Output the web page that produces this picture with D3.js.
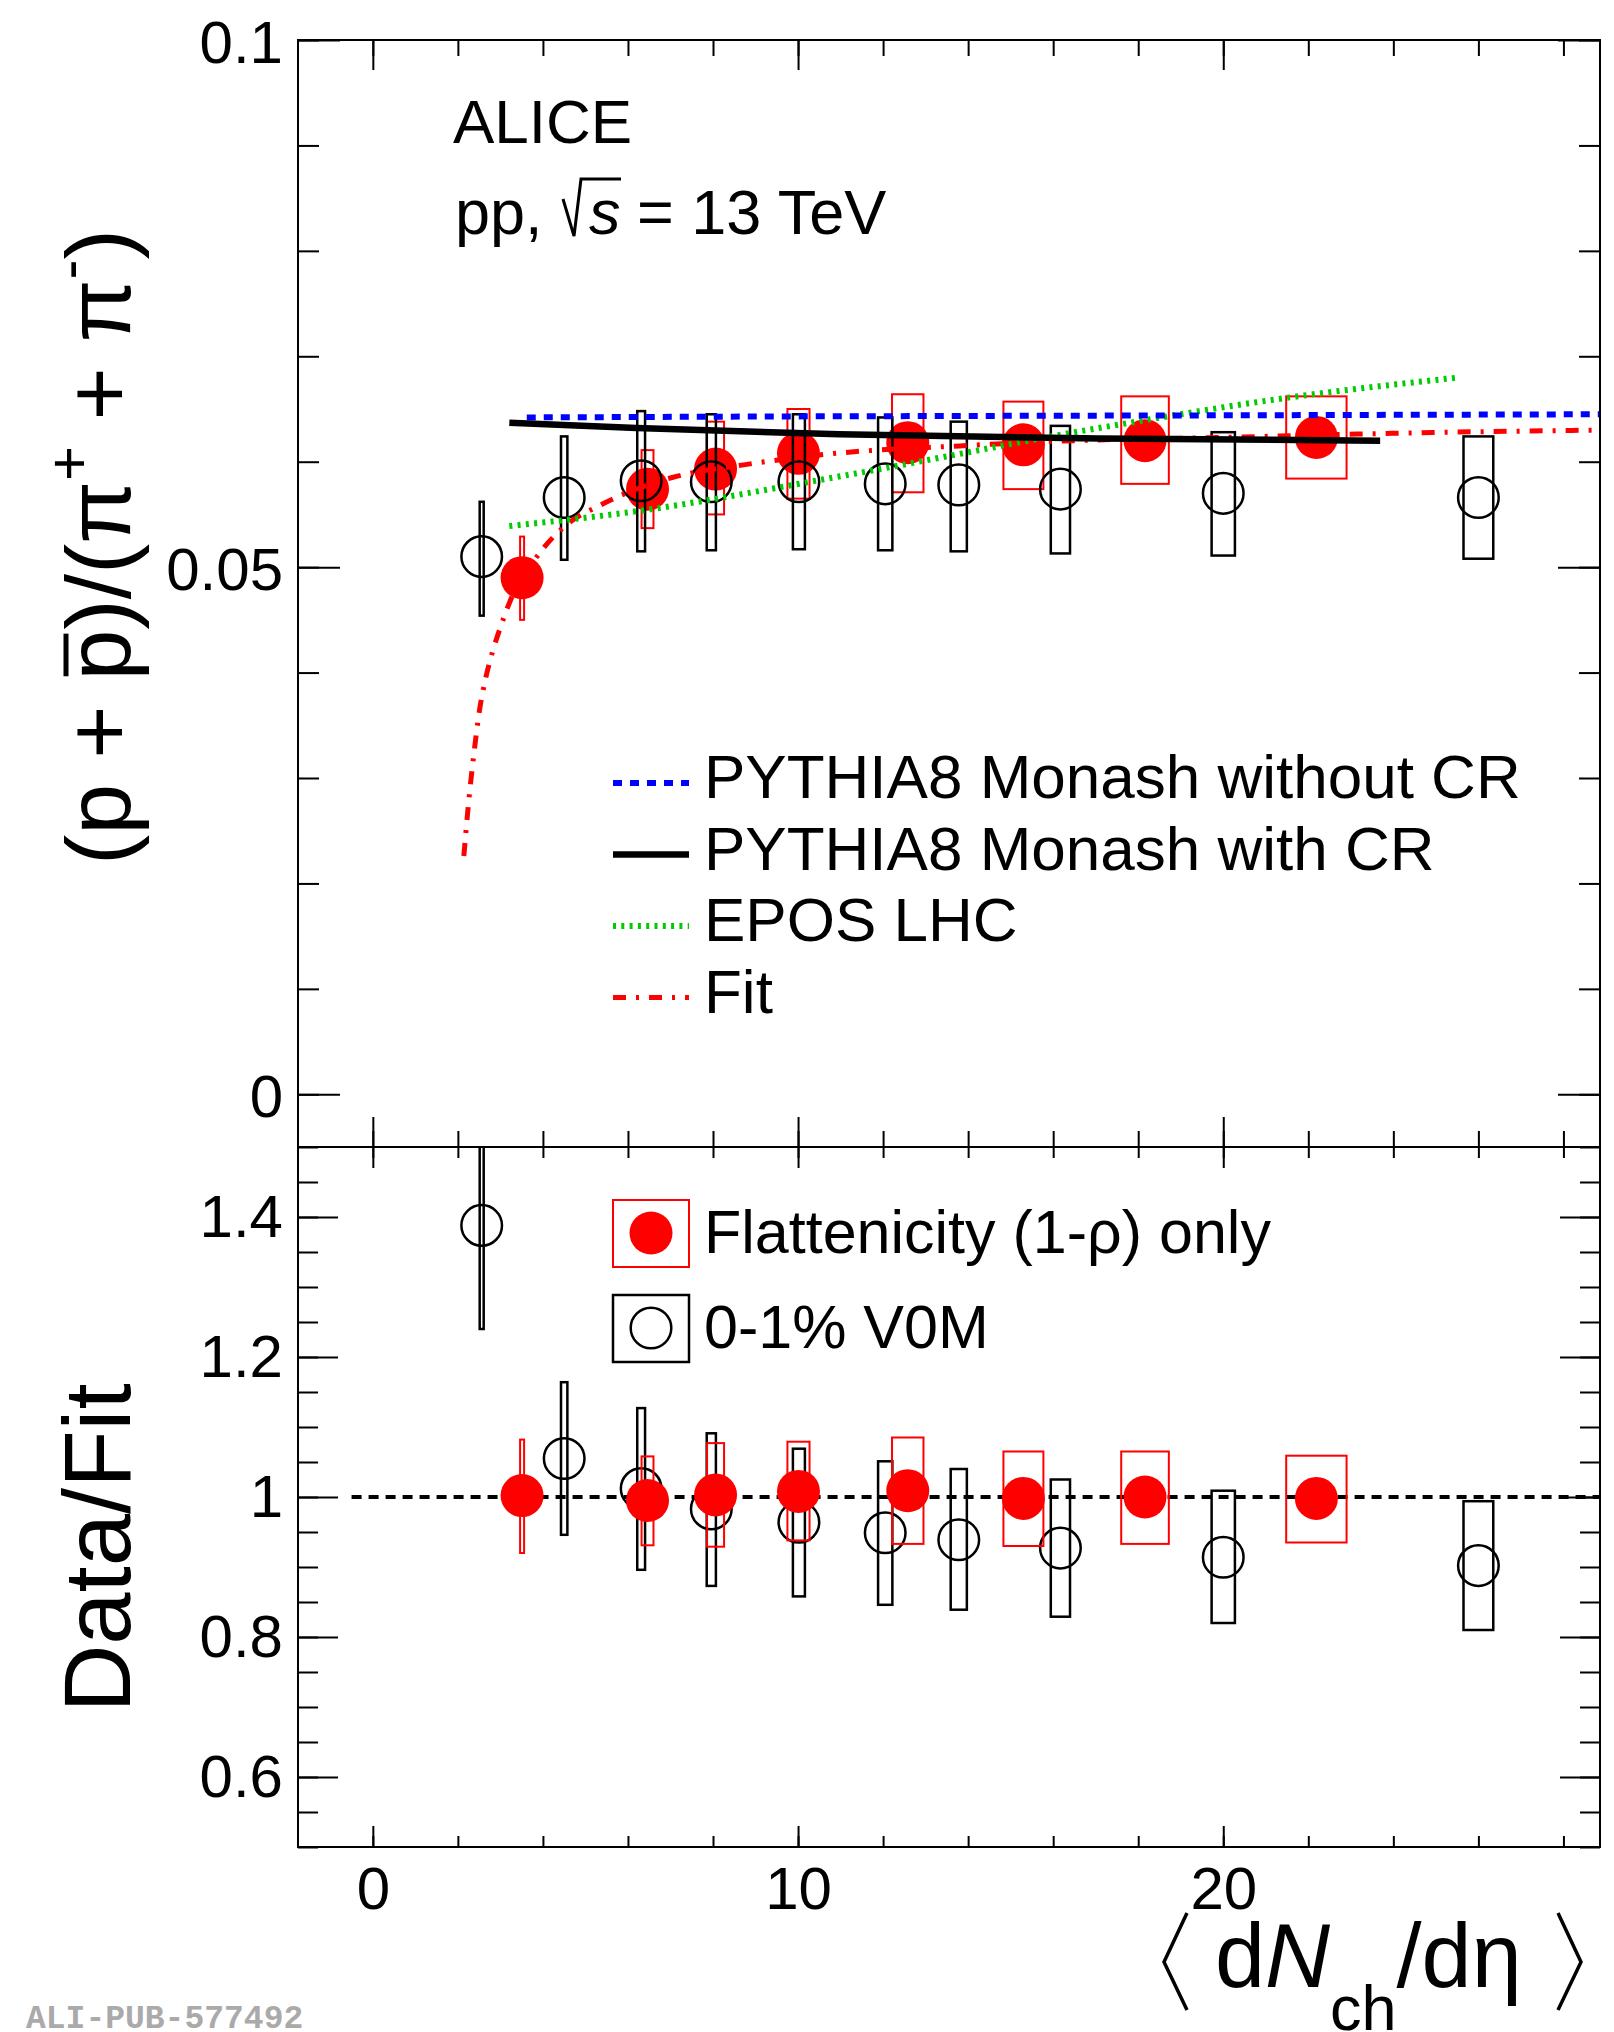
<!DOCTYPE html>
<html>
<head>
<meta charset="utf-8">
<script src="https://cdn.jsdelivr.net/npm/d3@7"></script>
<style>
  body { margin: 0; background: #fff; }
  svg text { font-family: "Liberation Sans", Arial, Helvetica, sans-serif; }
</style>
</head>
<body>
<svg id="chart" width="1614" height="2032"></svg>
<script>
// 0-1% V0M (open circles)
const v0mX      = [2.56, 4.50, 6.31, 7.96, 10.02, 12.05, 13.78, 16.17, 20.0, 26.0];
const v0mXErr   = [0.047, 0.075, 0.092, 0.108, 0.141, 0.168, 0.19, 0.226, 0.274, 0.35];
const v0mRatio  = [0.0510, 0.0566, 0.0582, 0.0581, 0.0581, 0.0579, 0.0578, 0.0574, 0.0570, 0.0566];
const v0mSysLo  = [0.0454, 0.0507, 0.0515, 0.0516, 0.0517, 0.0516, 0.0515, 0.0513, 0.0511, 0.0508];
const v0mSysHi  = [0.0562, 0.0624, 0.0648, 0.0645, 0.0645, 0.0642, 0.0638, 0.0634, 0.0628, 0.0624];
const v0mDataFit   = [1.388, 1.055, 1.012, 0.983, 0.964, 0.949, 0.939, 0.927, 0.914, 0.902];
const v0mDataFitLo = [1.240, 0.946, 0.896, 0.873, 0.858, 0.846, 0.839, 0.829, 0.820, 0.810];
const v0mDataFitHi = [1.535, 1.164, 1.127, 1.091, 1.069, 1.051, 1.040, 1.025, 1.009, 0.994];

// Flattenicity (1-rho) only (red full circles)
const flatX      = [3.51, 6.46, 8.06, 10.01, 12.58, 15.30, 18.16, 22.19];
const flatXErr   = [0.047, 0.14, 0.20, 0.26, 0.37, 0.47, 0.56, 0.71];
const flatRatio  = [0.0490, 0.0574, 0.0593, 0.0608, 0.0618, 0.0616, 0.0620, 0.0623];
const flatSysLo  = [0.0450, 0.0537, 0.0550, 0.0565, 0.0571, 0.0574, 0.0579, 0.0584];
const flatSysHi  = [0.0529, 0.0611, 0.0638, 0.0650, 0.0664, 0.0657, 0.0662, 0.0662];
const flatDataFit   = [1.002, 0.995, 1.003, 1.008, 1.009, 0.998, 1.000, 0.998];
const flatDataFitLo = [0.920, 0.931, 0.929, 0.938, 0.933, 0.930, 0.933, 0.935];
const flatDataFitHi = [1.082, 1.058, 1.077, 1.079, 1.085, 1.065, 1.065, 1.059];

// models and fit
const pythiaNoCrX = [3.62, 10, 20, 28.86];
const pythiaNoCrY = [0.0642, 0.0643, 0.0644, 0.0645];
const pythiaCrX = [3.21, 6.2, 10.97, 17.1, 23.69];
const pythiaCrY = [0.0637, 0.0632, 0.0626, 0.0622, 0.0620];
const eposX = [3.21, 6.2, 10.97, 17.22, 21.57, 25.56];
const eposY = [0.0539, 0.0553, 0.0586, 0.0633, 0.0661, 0.0680];
const fitX = [2.14, 2.26, 2.38, 2.50, 2.65, 2.81, 3.01, 3.22, 3.84, 4.52, 5.36, 7.04, 8.72, 10.9, 13.8, 16.5, 20.0, 24.0, 28.86];
const fitY = [0.0226, 0.0280, 0.0324, 0.0362, 0.0394, 0.0419, 0.0444, 0.0467, 0.0509, 0.0539, 0.0559, 0.0585, 0.0597, 0.0608, 0.0615, 0.0620, 0.0623, 0.0627, 0.0630];
const unityX = [-0.5, 28.86];
const unityY = [1, 1];

// ticks
const xMajor = [0, 10, 20];
const xMinor = d3.range(0, 29, 2);
const topMajor = [0, 0.05, 0.1];
const topLabels = ["0", "0.05", "0.1"];
const topMinor = d3.range(0, 11).map(i => i * 0.01);
const botMajor = [0.6, 0.8, 1.0, 1.2, 1.4];
const botLabels = ["0.6", "0.8", "1", "1.2", "1.4"];
const botMinor = d3.range(0, 21).map(i => 0.5 + i * 0.05);

const svg = d3.select('#chart');
svg.append('rect').attr('width', 1614).attr('height', 2032).attr('fill', '#fff');

const x = d3.scaleLinear().domain([-1.76, 28.86]).range([298, 1600]);
const yTop = d3.scaleLinear().domain([-0.005, 0.1]).range([1147, 40]);
const yBot = d3.scaleLinear().domain([0.5, 1.5]).range([1847, 1147]);

const defs = svg.append('defs');
defs.append('clipPath').attr('id', 'clipTop')
    .append('rect').attr('x', 298).attr('y', 40).attr('width', 1302).attr('height', 1107);
defs.append('clipPath').attr('id', 'clipBot')
    .append('rect').attr('x', 298).attr('y', 1147).attr('width', 1302).attr('height', 700);

const R = 21.5;

function drawSeries(g, y, xs, xe, vals, lo, hi, color, filled, boxWidth) {
    g.append('g').selectAll('rect')
        .data(xs)
        .enter()
        .append('rect')
        .attr('x', (d, i) => x(d - xe[i]))
        .attr('width', (d, i) => x(d + xe[i]) - x(d - xe[i]))
        .attr('y', (d, i) => y(hi[i]))
        .attr('height', (d, i) => y(lo[i]) - y(hi[i]))
        .attr('fill', 'none')
        .attr('stroke', color)
        .attr('stroke-width', boxWidth);
    g.append('g').selectAll('circle')
        .data(xs)
        .enter()
        .append('circle')
        .attr('cx', d => x(d))
        .attr('cy', (d, i) => y(vals[i]))
        .attr('r', filled ? R : R - 1.2)
        .attr('fill', filled ? '#ff0000' : 'none')
        .attr('stroke', filled ? 'none' : '#000')
        .attr('stroke-width', 2.5);
}

function curve(g, y, xs, ys, color, width, dash, smooth) {
    const line = d3.line()
        .x(d => x(d[0]))
        .y(d => y(d[1]));
    if (smooth) line.curve(d3.curveMonotoneX);
    g.append('path')
        .attr('d', line(d3.zip(xs, ys)))
        .attr('fill', 'none')
        .attr('stroke', color)
        .attr('stroke-width', width)
        .attr('stroke-dasharray', dash);
}

// top panel data
const gTop = svg.append('g').attr('clip-path', 'url(#clipTop)');
drawSeries(gTop, yTop, flatX, flatXErr, flatRatio, flatSysLo, flatSysHi, '#ff0000', true, 2);
drawSeries(gTop, yTop, v0mX, v0mXErr, v0mRatio, v0mSysLo, v0mSysHi, '#000', false, 2.5);

const models = [
    { name: 'PYTHIA8 Monash without CR', xs: pythiaNoCrX, ys: pythiaNoCrY, color: '#0000ff', width: 6, dash: '9,8', smooth: false },
    { name: 'PYTHIA8 Monash with CR', xs: pythiaCrX, ys: pythiaCrY, color: '#000', width: 6.5, dash: null, smooth: true },
    { name: 'EPOS LHC', xs: eposX, ys: eposY, color: '#00cc00', width: 6, dash: '3,5.3', smooth: true },
    { name: 'Fit', xs: fitX, ys: fitY, color: '#ff0000', width: 5, dash: '13,10,3,10', smooth: true }
];
// draw order: fit, epos, no CR, CR
[3, 2, 0, 1].forEach(i => {
    const m = models[i];
    curve(gTop, yTop, m.xs, m.ys, m.color, m.width, m.dash, m.smooth);
});

// bottom panel data
const gBot = svg.append('g').attr('clip-path', 'url(#clipBot)');
curve(gBot, yBot, unityX, unityY, '#000', 4, '10,7', false);
drawSeries(gBot, yBot, v0mX, v0mXErr, v0mDataFit, v0mDataFitLo, v0mDataFitHi, '#000', false, 2.5);
drawSeries(gBot, yBot, flatX, flatXErr, flatDataFit, flatDataFitLo, flatDataFitHi, '#ff0000', true, 2);

// frames and ticks
function ticks(axisGen, scale, values, size, transform) {
    const g = svg.append('g')
        .attr('transform', transform)
        .call(axisGen(scale).tickValues(values).tickSize(size).tickFormat(''));
    g.select('.domain').remove();
    g.selectAll('line').attr('stroke', '#000').attr('stroke-width', 2);
    return g;
}

// top panel ticks
ticks(d3.axisBottom, x, xMinor, 16, 'translate(0,40)');
ticks(d3.axisBottom, x, xMajor, 30, 'translate(0,40)');
ticks(d3.axisTop, x, xMinor, 16, 'translate(0,1147)');
ticks(d3.axisTop, x, xMajor, 30, 'translate(0,1147)');
ticks(d3.axisRight, yTop, topMinor, 21, 'translate(298,0)');
ticks(d3.axisRight, yTop, topMajor, 42, 'translate(298,0)');
ticks(d3.axisLeft, yTop, topMinor, 21, 'translate(1600,0)');
ticks(d3.axisLeft, yTop, topMajor, 42, 'translate(1600,0)');

// bottom panel ticks
ticks(d3.axisBottom, x, xMinor, 11, 'translate(0,1147)');
ticks(d3.axisBottom, x, xMajor, 21, 'translate(0,1147)');
ticks(d3.axisTop, x, xMinor, 11, 'translate(0,1847)');
ticks(d3.axisTop, x, xMajor, 21, 'translate(0,1847)');
ticks(d3.axisRight, yBot, botMinor, 20, 'translate(298,0)');
ticks(d3.axisRight, yBot, botMajor, 40, 'translate(298,0)');
ticks(d3.axisLeft, yBot, botMinor, 20, 'translate(1600,0)');
ticks(d3.axisLeft, yBot, botMajor, 40, 'translate(1600,0)');

svg.append('rect').attr('x', 298).attr('y', 40).attr('width', 1302).attr('height', 1107)
    .attr('fill', 'none').attr('stroke', '#000').attr('stroke-width', 2);
svg.append('rect').attr('x', 298).attr('y', 1147).attr('width', 1302).attr('height', 700)
    .attr('fill', 'none').attr('stroke', '#000').attr('stroke-width', 2);

// tick labels
function labels(axisGen, scale, values, texts, pad, transform) {
    const g = svg.append('g')
        .attr('transform', transform)
        .call(axisGen(scale).tickValues(values).tickSize(0).tickPadding(pad)
            .tickFormat((d, i) => texts[i]));
    g.select('.domain').remove();
    g.selectAll('text').attr('font-size', 60).attr('fill', '#000')
        .style('font-family', '"Liberation Sans", Arial, sans-serif');
    return g;
}
labels(d3.axisLeft, yTop, topMajor, topLabels, 15, 'translate(298,3)');
labels(d3.axisLeft, yBot, botMajor, botLabels, 15, 'translate(298,0)');
labels(d3.axisBottom, x, xMajor, xMajor.map(String), 19, 'translate(0,1847)');

// ALICE label
svg.append('text').attr('x', 453).attr('y', 143).attr('font-size', 62).text('ALICE');
svg.append('text').attr('x', 455).attr('y', 234).attr('font-size', 63).text('pp,');
svg.append('path').attr('d', 'M563,199 L574,236 L581,179 L621,179')
    .attr('fill', 'none').attr('stroke', '#000').attr('stroke-width', 3);
svg.append('text').attr('x', 589).attr('y', 234).attr('font-size', 63)
    .attr('font-style', 'italic').text('s');
svg.append('text').attr('x', 637).attr('y', 234).attr('font-size', 63).text('= 13 TeV');

// model legend
const legTop = svg.append('g');
models.forEach((m, i) => {
    const ly = 783 + i * 71.5;
    legTop.append('line')
        .attr('x1', 613).attr('x2', 689).attr('y1', ly).attr('y2', ly)
        .attr('stroke', m.color).attr('stroke-width', m.width)
        .attr('stroke-dasharray', m.dash);
    legTop.append('text')
        .attr('x', 704).attr('y', ly + 15)
        .attr('font-size', 62)
        .text(m.name);
});

// data legend
const dataLegend = [
    { name: 'Flattenicity (1-\u03C1) only', color: '#ff0000', filled: true },
    { name: '0-1% V0M', color: '#000', filled: false }
];
dataLegend.forEach((e, i) => {
    const cy = 1233 + i * 95;
    svg.append('rect').attr('x', 613).attr('y', cy - 33).attr('width', 76).attr('height', 67)
        .attr('fill', 'none').attr('stroke', e.color).attr('stroke-width', e.filled ? 2 : 2.5);
    svg.append('circle').attr('cx', 651).attr('cy', cy).attr('r', e.filled ? R : R - 1.2)
        .attr('fill', e.filled ? '#ff0000' : 'none')
        .attr('stroke', e.filled ? 'none' : '#000').attr('stroke-width', 2.5);
    svg.append('text').attr('x', 704).attr('y', cy + 20).attr('font-size', 61).text(e.name);
});

// y title top
const yt = svg.append('g').attr('transform', 'translate(130,547) rotate(-90)');
const ytText = yt.append('text').attr('text-anchor', 'middle').attr('font-size', 91);
ytText.append('tspan').text('(p + ');
ytText.append('tspan').text('p');
ytText.append('tspan').text(')/(\u03C0');
ytText.append('tspan').attr('font-size', 60).attr('dy', -41).text('+');
ytText.append('tspan').attr('dy', 41).text(' + \u03C0');
ytText.append('tspan').attr('font-size', 60).attr('dy', -41).text('-');
ytText.append('tspan').attr('dy', 41).text(')');
// overline on the anti-proton
const pIdx = '(p + '.length;
const ext = ytText.node().getExtentOfChar(pIdx);
yt.append('line')
    .attr('x1', ext.x + 4).attr('x2', ext.x + ext.width - 4)
    .attr('y1', -64).attr('y2', -64)
    .attr('stroke', '#000').attr('stroke-width', 5);

// y title bottom
svg.append('text')
    .attr('transform', 'translate(130,1548) rotate(-90)')
    .attr('text-anchor', 'middle')
    .attr('font-size', 94)
    .text('Data/Fit');

// x title
svg.append('path').attr('d', 'M1187,1913 L1164,1962 L1187,2010')
    .attr('fill', 'none').attr('stroke', '#000').attr('stroke-width', 3.5);
svg.append('path').attr('d', 'M1558,1913 L1581,1962 L1558,2010')
    .attr('fill', 'none').attr('stroke', '#000').attr('stroke-width', 3.5);
const xt = svg.append('text').attr('x', 1215).attr('y', 1987).attr('font-size', 90);
xt.append('tspan').text('d');
xt.append('tspan').attr('font-style', 'italic').text('N');
xt.append('tspan').attr('font-size', 63).attr('dy', 43).text('ch');
xt.append('tspan').attr('dy', -43).text('/d\u03B7');

// watermark
svg.append('text').attr('x', 26).attr('y', 2028)
    .style('font-family', '"Liberation Mono", "Courier New", monospace')
    .attr('font-weight', 'bold').attr('font-size', 33).attr('fill', '#aaaaaa')
    .text('ALI-PUB-577492');
</script>
</body>
</html>
